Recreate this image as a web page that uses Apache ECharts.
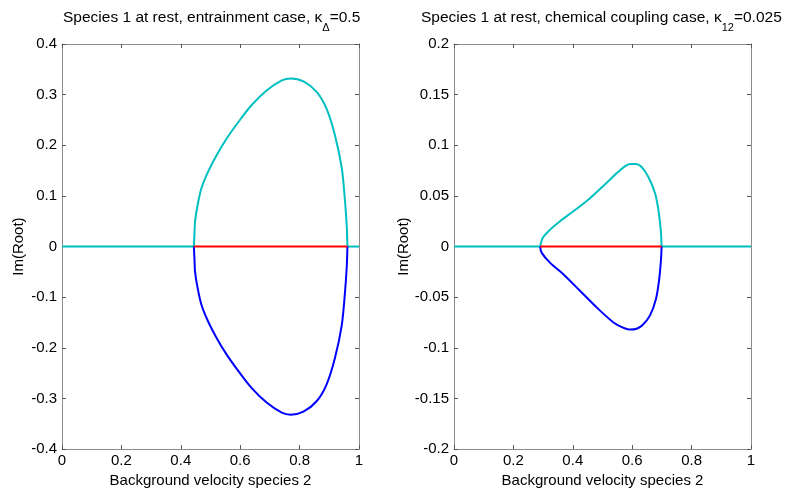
<!DOCTYPE html>
<html>
<head>
<meta charset="utf-8">
<script src="https://cdn.jsdelivr.net/npm/echarts@6/dist/echarts.min.js"></script>
<style>
html,body{margin:0;padding:0;background:#fff;}
#chart{width:785px;height:493px;}
</style>
</head>
<body>
<div id="chart"></div>
<script>
// ---- Data ----
var xTicks = [0, 0.2, 0.4, 0.6, 0.8, 1];

// Left panel: entrainment case
var leftUpperV  = [0.444, 0.446, 0.448, 0.457, 0.470, 0.492, 0.521, 0.554, 0.594, 0.638, 0.689, 0.740, 0.770, 0.813, 0.858, 0.891, 0.919, 0.942, 0.953, 0.959, 0.961];
var leftUpperIm = [0.000, 0.024, 0.050, 0.083, 0.116, 0.148, 0.181, 0.213, 0.246, 0.279, 0.308, 0.328, 0.332, 0.326, 0.305, 0.272, 0.220, 0.155, 0.089, 0.037, 0.000];
var leftLowerV  = [0.444, 0.446, 0.448, 0.457, 0.470, 0.492, 0.521, 0.554, 0.594, 0.638, 0.689, 0.740, 0.770, 0.813, 0.858, 0.891, 0.919, 0.942, 0.953, 0.959, 0.961];
var leftLowerIm = [0.000, -0.024, -0.050, -0.083, -0.116, -0.148, -0.181, -0.213, -0.246, -0.279, -0.308, -0.328, -0.332, -0.326, -0.305, -0.272, -0.220, -0.155, -0.089, -0.037, 0.000];
var leftRealV   = [0.444, 0.961];
var leftCyanA   = [0, 0.444];
var leftCyanB   = [0.961, 1];

// Right panel: chemical coupling case
var rightUpperV  = [0.290, 0.299, 0.318, 0.357, 0.402, 0.458, 0.500, 0.530, 0.552, 0.572, 0.593, 0.612, 0.630, 0.654, 0.677, 0.688, 0.696, 0.699];
var rightUpperIm = [0.000, 0.0086, 0.0152, 0.025, 0.0348, 0.0478, 0.0590, 0.0675, 0.0735, 0.0785, 0.0815, 0.0815, 0.0790, 0.069, 0.0527, 0.0365, 0.0169, 0.000];
var rightLowerV  = [0.290, 0.295, 0.323, 0.368, 0.424, 0.480, 0.536, 0.565, 0.593, 0.615, 0.635, 0.660, 0.680, 0.691, 0.697, 0.699];
var rightLowerIm = [0.000, -0.006, -0.0159, -0.0273, -0.0436, -0.060, -0.0747, -0.0795, -0.0820, -0.0812, -0.0775, -0.068, -0.0518, -0.0322, -0.0125, 0.000];
var rightRealV   = [0.290, 0.699];
var rightCyanA   = [0, 0.290];
var rightCyanB   = [0.699, 1];

var titles = [
  '{a|Species 1 at rest, entrainment case, κ}{s|Δ}{a|=0.5}',
  '{a|Species 1 at rest, chemical coupling case, κ}{s|12}{a|=0.025}'
];
var xName = 'Background velocity species 2';
var yName = 'Im(Root)';

// ---- Build chart ----
function pairs(xs, ys) { return xs.map(function (x, i) { return [x, ys[i]]; }); }
function flat(xs) { return xs.map(function (x) { return [x, 0]; }); }

var FONT = 'Liberation Sans';
var CYAN = '#00BFBF', RED = '#FF0000', BLUE = '#0000FF';
var AXC = '#8c8c8c';

var grids = [
  {left: 62, top: 44, width: 297, height: 408},
  {left: 454, top: 44, width: 297, height: 408}
];
var yRanges = [{min: -0.4, max: 0.4, interval: 0.1}, {min: -0.2, max: 0.2, interval: 0.05}];

var xAxes = [], yAxes = [];
for (var g = 0; g < 2; g++) {
  xAxes.push({
    type: 'value', gridIndex: g, min: 0, max: 1, interval: 0.2, position: 'bottom',
    name: xName, nameLocation: 'middle', nameGap: 23,
    nameTextStyle: {fontFamily: FONT, fontSize: 15, color: '#000'},
    axisLine: {show: true, onZero: false, lineStyle: {color: AXC, width: 1}},
    axisTick: {show: true, inside: true, length: 4, lineStyle: {color: '#555'}},
    axisLabel: {margin: 4, fontFamily: FONT, fontSize: 15, color: '#000'},
    splitLine: {show: false}
  });
  xAxes.push({
    type: 'value', gridIndex: g, min: 0, max: 1, interval: 0.2, position: 'top',
    axisLine: {show: true, onZero: false, lineStyle: {color: AXC, width: 1}},
    axisTick: {show: true, inside: true, length: 4, lineStyle: {color: '#555'}},
    axisLabel: {show: false}, splitLine: {show: false}
  });
  yAxes.push({
    type: 'value', gridIndex: g, min: yRanges[g].min, max: yRanges[g].max, interval: yRanges[g].interval, position: 'left',
    name: yName, nameLocation: 'middle', nameGap: 36, nameRotate: 90,
    nameTextStyle: {fontFamily: FONT, fontSize: 15, color: '#000'},
    axisLine: {show: true, onZero: false, lineStyle: {color: AXC, width: 1}},
    axisTick: {show: true, inside: true, length: 4, lineStyle: {color: '#555'}},
    axisLabel: {margin: 5, fontFamily: FONT, fontSize: 15, color: '#000'},
    splitLine: {show: false}
  });
  yAxes.push({
    type: 'value', gridIndex: g, min: yRanges[g].min, max: yRanges[g].max, interval: yRanges[g].interval, position: 'right',
    axisLine: {show: true, onZero: false, lineStyle: {color: AXC, width: 1}},
    axisTick: {show: true, inside: true, length: 4, lineStyle: {color: '#555'}},
    axisLabel: {show: false}, splitLine: {show: false}
  });
}

function line(g, data, color, z, smooth) {
  return {
    type: 'line', xAxisIndex: g * 2, yAxisIndex: g * 2, data: data,
    showSymbol: false, symbol: 'none', smooth: smooth || false, silent: true, animation: false,
    lineStyle: {color: color, width: 2}, z: z
  };
}

var series = [
  line(0, flat(leftCyanA), CYAN, 2),
  line(0, flat(leftCyanB), CYAN, 2),
  line(0, pairs(leftUpperV, leftUpperIm), CYAN, 3, 0.3),
  line(0, pairs(leftLowerV, leftLowerIm), BLUE, 3, 0.3),
  line(0, flat(leftRealV), RED, 4),
  line(1, flat(rightCyanA), CYAN, 2),
  line(1, flat(rightCyanB), CYAN, 2),
  line(1, pairs(rightUpperV, rightUpperIm), CYAN, 3, 0.3),
  line(1, pairs(rightLowerV, rightLowerIm), BLUE, 3, 0.3),
  line(1, flat(rightRealV), RED, 4)
];

var richStyle = {
  a: {fontFamily: FONT, fontSize: 15.5, fontWeight: 'normal', color: '#000', lineHeight: 17, verticalAlign: 'top'},
  s: {fontFamily: FONT, fontSize: 11, fontWeight: 'normal', color: '#000', lineHeight: 11, verticalAlign: 'top', padding: [12, 0, 0, 0]}
};

var option = {
  backgroundColor: '#fff',
  animation: false,
  title: [
    {text: titles[0], left: 58, top: 5, textStyle: {fontWeight: 'normal', rich: richStyle}},
    {text: titles[1], left: 416, top: 5, textStyle: {fontWeight: 'normal', rich: richStyle}}
  ],
  grid: grids,
  xAxis: xAxes,
  yAxis: yAxes,
  series: series
};

var chart = echarts.init(document.getElementById('chart'), null, {renderer: 'canvas'});
chart.setOption(option);
</script>
</body>
</html>
